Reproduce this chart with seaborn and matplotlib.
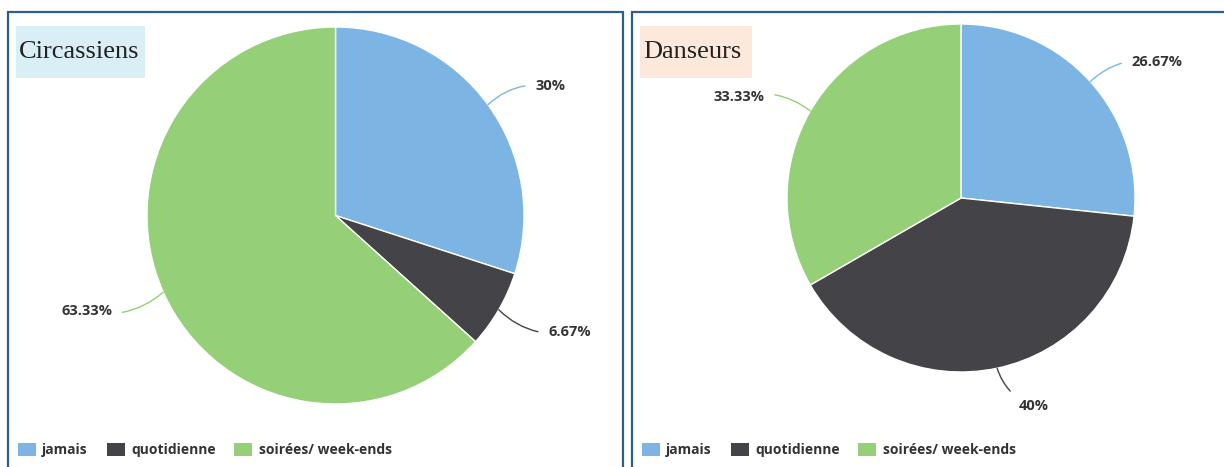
import matplotlib.pyplot as plt
import numpy as np
import seaborn as sns
from matplotlib.patches import Patch, Rectangle

categories = ["jamais", "quotidienne", "soirées/ week-ends"]
circassiens = [30.0, 6.67, 63.33]
danseurs = [26.67, 40.0, 33.33]
labels_circassiens = ["30%", "6.67%", "63.33%"]
labels_danseurs = ["26.67%", "40%", "33.33%"]
titles = ["Circassiens", "Danseurs"]

sns.set_style("white")
plt.rcParams["font.family"] = ["Open Sans", "DejaVu Sans"]
colors = sns.color_palette(["#7cb5e4", "#434348", "#95cf78"])

W, H = 1224, 467
fig = plt.figure(figsize=(W / 100, H / 100), dpi=100)


def px(x0, y0, x1, y1):
    # pixel box (top-left origin) -> figure fraction rect
    return [x0 / W, 1 - y1 / H, (x1 - x0) / W, (y1 - y0) / H]


def draw_pie(ax, values, labels):
    wedges, _ = ax.pie(values, colors=colors, startangle=90, counterclock=False,
                       wedgeprops=dict(edgecolor="white", linewidth=1))
    ax.set_xlim(-1, 1)
    ax.set_ylim(-1, 1)
    for w, lab, col in zip(wedges, labels, colors):
        ang = np.deg2rad((w.theta1 + w.theta2) / 2)
        x, y = np.cos(ang), np.sin(ang)
        side = 1 if x >= 0 else -1
        ax.annotate(lab, xy=(x, y), xytext=(1.21 * x + side * 0.08, 1.2 * y - 0.02),
                    ha="left" if side > 0 else "right", va="center",
                    fontsize=10.5, fontweight="bold", color="#333333",
                    arrowprops=dict(arrowstyle="-", color=col, lw=1,
                                    shrinkA=5, shrinkB=0,
                                    connectionstyle=f"arc3,rad={0.25 * side * np.sign(y)}"))


panels = [
    dict(frame=(8, 12, 623, 520), pie=(147, 27, 524, 404), title_box=(16, 26, 145, 78),
         title_bg="#daeef5", legend_x=18, values=circassiens, labels=labels_circassiens),
    dict(frame=(632, 12, 1240, 520), pie=(787, 24, 1135, 372), title_box=(640, 26, 752, 78),
         title_bg="#fde9dc", legend_x=642, values=danseurs, labels=labels_danseurs),
]

for title, p in zip(titles, panels):
    fr = px(*p["frame"])
    fig.add_artist(Rectangle((fr[0], fr[1]), fr[2], fr[3], transform=fig.transFigure,
                             facecolor="none", edgecolor="#2e5d8e", linewidth=1.6))
    tb = px(*p["title_box"])
    fig.add_artist(Rectangle((tb[0], tb[1]), tb[2], tb[3], transform=fig.transFigure,
                             facecolor=p["title_bg"], edgecolor="none"))
    fig.text(tb[0] + 3 / W, tb[1] + tb[3] / 2, title, ha="left", va="center",
             fontsize=19, family="Liberation Serif", color="#222222")

    ax = fig.add_axes(px(*p["pie"]))
    draw_pie(ax, p["values"], p["labels"])

    handles = [Patch(facecolor=c, edgecolor="none") for c in colors]
    fig.legend(handles, categories, loc="center left",
               bbox_to_anchor=(p["legend_x"] / W, 1 - 450 / H), ncol=3, frameon=False,
               handlelength=1.3, handleheight=1.1, handletextpad=0.45, columnspacing=1.35,
               borderpad=0, borderaxespad=0, labelcolor="#333333",
               prop=dict(weight="bold", size=10))

fig.savefig("out.png", dpi=100)
